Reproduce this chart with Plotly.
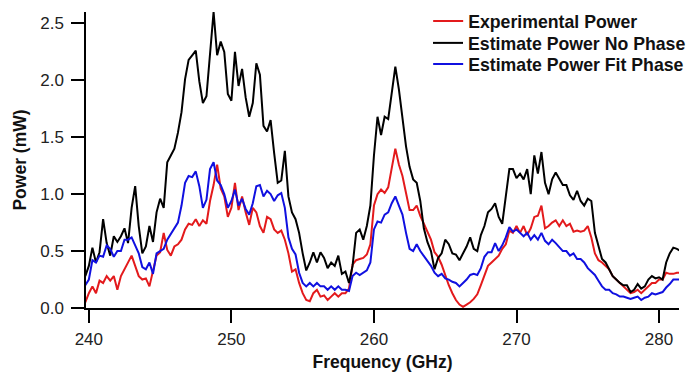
import plotly.graph_objects as go

experimental_power = [
    0.05, 0.13, 0.19, 0.13, 0.24, 0.22, 0.28, 0.24, 0.28, 0.16,
    0.28, 0.34, 0.40, 0.46, 0.37, 0.28, 0.25, 0.26, 0.19, 0.34,
    0.46, 0.49, 0.66, 0.51, 0.46, 0.54, 0.56, 0.60, 0.69, 0.74,
    # 247.25 ..
    0.73, 0.78, 0.72, 0.77, 0.74, 0.94, 1.08, 1.26, 1.05, 0.98,
    0.80, 0.88, 1.10, 0.86, 0.98, 0.84, 0.73, 0.88, 0.84, 0.72,
    0.66, 0.80, 0.78, 0.69, 0.66, 0.68, 0.60, 0.48, 0.32, 0.34,
    0.22, 0.13,
    # 255.25 ..
    0.07, 0.06, 0.13, 0.16, 0.10, 0.11, 0.07, 0.10, 0.13, 0.10,
    0.13, 0.13, 0.17, 0.38, 0.42, 0.43, 0.44, 0.47, 0.56, 0.90,
    1.00, 1.04, 1.01, 1.06, 1.24, 1.40, 1.26, 1.16, 1.01, 0.86,
    0.86, 0.90,
    # 263.25 ..
    0.81, 0.74, 0.68, 0.60, 0.49, 0.45, 0.38, 0.29, 0.20, 0.13,
    0.07, 0.03, 0.01, 0.03, 0.05, 0.08, 0.12, 0.20, 0.28, 0.37,
    0.40, 0.43, 0.46, 0.52, 0.56, 0.68, 0.66, 0.72, 0.66, 0.72,
    0.64, 0.70, 0.80,
    # 271.5 ..
    0.81, 0.90, 0.70, 0.72, 0.75, 0.77, 0.72, 0.77, 0.72, 0.74,
    0.67, 0.68, 0.67, 0.68, 0.72, 0.62, 0.48, 0.42, 0.40, 0.37,
    0.34, 0.28, 0.25, 0.22, 0.19, 0.16, 0.13, 0.14, 0.16, 0.13,
    0.16, 0.19, 0.22, 0.22, 0.25, 0.25, 0.31, 0.30, 0.30, 0.31,
    0.31,
]

estimate_no_phase = [
    0.28, 0.37, 0.53, 0.40, 0.49, 0.78, 0.57, 0.46, 0.63, 0.58,
    0.63, 0.70, 0.57, 0.88, 1.07, 0.72, 0.48, 0.54, 0.72, 0.58,
    0.84, 0.96, 0.88, 1.28, 1.34, 1.40, 1.54, 1.72, 2.01, 2.18,
    # 247.25 ..
    2.22, 2.26, 1.99, 1.80, 1.86, 2.25, 2.60, 2.22, 2.34, 2.25,
    1.88, 1.82, 2.25, 1.95, 2.10, 1.85, 1.68, 1.80, 2.15, 2.05,
    1.60, 1.55, 1.65, 1.36, 1.10, 1.12, 1.38, 0.98, 0.84, 0.78,
    0.66, 0.48,
    # 255.25 ..
    0.33, 0.40, 0.49, 0.40, 0.49, 0.44, 0.35, 0.40, 0.37, 0.46,
    0.30, 0.32, 0.22, 0.37, 0.66, 0.69, 0.60, 0.72, 0.90, 1.34,
    1.68, 1.52, 1.68, 1.66, 1.90, 2.12, 1.92, 1.65, 1.42, 1.24,
    1.13, 1.10,
    # 263.25 ..
    0.94, 0.70, 0.58, 0.50, 0.34, 0.44, 0.48, 0.60, 0.56, 0.48,
    0.47, 0.42, 0.48, 0.54, 0.62, 0.52, 0.50, 0.64, 0.72, 0.84,
    0.87, 0.92, 0.80, 0.74, 0.98, 1.22, 1.22, 1.14, 1.18, 1.13,
    1.22, 1.00, 1.34,
    # 271.5 ..
    1.18, 1.37, 1.10, 1.00, 1.13, 1.19, 1.14, 1.08, 1.08, 0.99,
    0.95, 1.03, 0.94, 0.90, 0.96, 0.94, 0.66, 0.55, 0.43, 0.40,
    0.34, 0.28, 0.25, 0.22, 0.20, 0.20, 0.14, 0.16, 0.21, 0.17,
    0.19, 0.25, 0.28, 0.26, 0.27, 0.25, 0.40, 0.48, 0.53, 0.52,
    0.50,
]

estimate_fit_phase = [
    0.20, 0.25, 0.42, 0.40, 0.46, 0.45, 0.55, 0.52, 0.45, 0.50,
    0.50, 0.60, 0.60, 0.62, 0.55, 0.48, 0.36, 0.34, 0.40, 0.30,
    0.48, 0.50, 0.52, 0.60, 0.65, 0.70, 0.75, 0.90, 1.10, 1.16,
    # 247.25 ..
    1.15, 1.20, 1.07, 0.88, 0.95, 1.22, 1.28, 1.12, 1.08, 1.00,
    0.88, 0.94, 1.04, 0.90, 0.96, 0.87, 0.82, 0.92, 1.07, 1.08,
    0.98, 1.03, 1.00, 0.94, 0.99, 1.01, 0.88, 0.62, 0.52, 0.47,
    0.31, 0.22,
    # 255.25 ..
    0.19, 0.22, 0.19, 0.22, 0.19, 0.19, 0.16, 0.19, 0.16, 0.19,
    0.16, 0.16, 0.15, 0.28, 0.31, 0.29, 0.31, 0.33, 0.40, 0.69,
    0.76, 0.75, 0.82, 0.84, 0.92, 0.98, 0.90, 0.82, 0.66, 0.52,
    0.50, 0.56,
    # 263.25 ..
    0.50, 0.46, 0.41, 0.37, 0.31, 0.28, 0.30, 0.26, 0.25, 0.23,
    0.22, 0.19, 0.22, 0.25, 0.29, 0.30, 0.29, 0.35, 0.45, 0.49,
    0.49, 0.57, 0.50, 0.55, 0.62, 0.71, 0.67, 0.69, 0.66, 0.63,
    0.66, 0.60, 0.64,
    # 271.5 ..
    0.60, 0.66, 0.59, 0.56, 0.60, 0.57, 0.53, 0.50, 0.50, 0.46,
    0.48, 0.43, 0.43, 0.40, 0.35, 0.32, 0.29, 0.24, 0.19, 0.16,
    0.16, 0.13, 0.12, 0.10, 0.10, 0.09, 0.08, 0.09, 0.10, 0.07,
    0.09, 0.10, 0.13, 0.12, 0.13, 0.14, 0.18, 0.21, 0.25, 0.25,
    0.25,
]

freq_start = 239.75
freq_step = 0.25
frequency = [freq_start + freq_step * i for i in range(len(experimental_power))]

series_names = ["Experimental Power", "Estimate Power No Phase", "Estimate Power Fit Phase"]
x_tick_values = [240, 250, 260, 270, 280]
y_tick_values = [0.0, 0.5, 1.0, 1.5, 2.0, 2.5]

FONT = "Liberation Sans, Arial, sans-serif"
colors = ["#e31a1c", "#000000", "#1010e0"]
legend_ids = ["legend", "legend2", "legend3"]
legend_rows_y = [0.968, 0.894, 0.823]

fig = go.Figure()
for name, vals, col, lg in zip(series_names,
                               [experimental_power, estimate_no_phase, estimate_fit_phase],
                               colors, legend_ids):
    fig.add_trace(go.Scatter(x=frequency, y=vals, mode="lines", name=name,
                             line=dict(color=col, width=2), legend=lg))

legend_common = dict(x=0.577, xanchor="left", yanchor="middle",
                     bgcolor="rgba(0,0,0,0)", borderwidth=0,
                     font=dict(family=FONT, size=17.7, color="#111111", weight="bold"),
                     itemwidth=30)
legend_layout = {lg: dict(y=yy, **legend_common) for lg, yy in zip(legend_ids, legend_rows_y)}

fig.update_layout(
    width=691, height=373,
    margin=dict(l=86, r=0, t=12, b=65),
    paper_bgcolor="white", plot_bgcolor="white",
    font=dict(family=FONT, color="#222222"),
    showlegend=True,
    **legend_layout,
    xaxis=dict(range=[239.8, 281.4], tickvals=x_tick_values,
               showgrid=False, zeroline=False, showline=True, linecolor="black",
               linewidth=1.5, ticks="outside", ticklen=13, tickwidth=1.5, tickcolor="black",
               ticklabelstandoff=2,
               tickfont=dict(family=FONT, size=17, color="#222222"),
               title=dict(text="Frequency (GHz)", standoff=8,
                          font=dict(family=FONT, size=17.5, color="#111111", weight="bold"))),
    yaxis=dict(range=[0, 2.6], tickvals=y_tick_values, tickformat=".1f",
               showgrid=False, zeroline=False, showline=True, linecolor="black",
               linewidth=1.5, ticks="outside", ticklen=13, tickwidth=1.5, tickcolor="black",
               ticklabelstandoff=4,
               tickfont=dict(family=FONT, size=17, color="#222222"),
               title=dict(text="Power (mW)", standoff=9,
                          font=dict(family=FONT, size=17.5, color="#111111", weight="bold"))),
)

fig.write_html("out.html")
